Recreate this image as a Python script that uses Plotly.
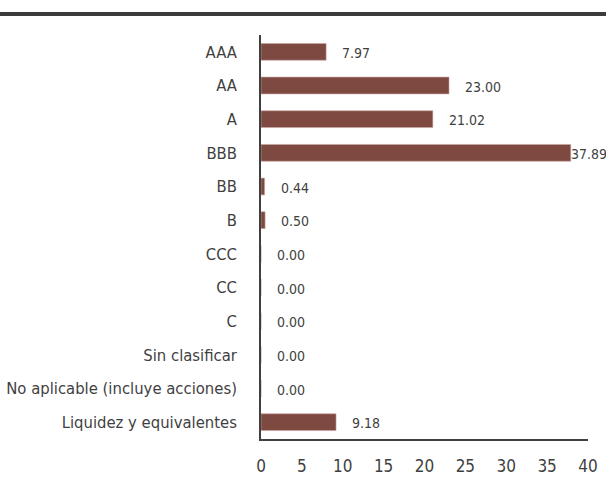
import plotly.graph_objects as go

categories = ["AAA", "AA", "A", "BBB", "BB", "B", "CCC", "CC", "C",
              "Sin clasificar", "No aplicable (incluye acciones)", "Liquidez y equivalentes"]
values = [7.97, 23.00, 21.02, 37.89, 0.44, 0.50, 0.00, 0.00, 0.00, 0.00, 0.00, 9.18]
labels = ["7.97", "23.00", "21.02", "37.89", "0.44", "0.50", "0.00", "0.00", "0.00", "0.00", "0.00", "9.18"]
x_ticks = [0, 5, 10, 15, 20, 25, 30, 35, 40]

FONT = "DejaVu Sans Condensed, Liberation Sans Narrow, Roboto, sans-serif"
BAR = "#7e4941"
TXT = "#3f3f3f"

L, R, T, B = 261, 18, 35, 38
W, H = 606, 477
PW, PH = W - L - R, H - T - B

fig = go.Figure(go.Bar(
    x=values, y=categories, orientation="h",
    marker=dict(color=BAR, line=dict(color="#c9a7a2", width=0.6)),
    width=0.5, hoverinfo="skip",
))

for v, lab, c in zip(values, labels, categories):
    fig.add_annotation(x=v, y=c, text=lab, showarrow=False, xanchor="left",
                       xshift=(14 if v < 35 else -2), yshift=-1,
                       font=dict(family=FONT, size=14, color=TXT))

ytop = 1 + (T - 14) / PH
fig.add_shape(type="line", xref="paper", yref="paper",
              x0=-L / PW, x1=1 + R / PW, y0=ytop, y1=ytop,
              line=dict(color="#3b3b3b", width=4))

fig.update_layout(
    width=W, height=H,
    margin=dict(l=L, r=R, t=T, b=B, autoexpand=False),
    paper_bgcolor="white", plot_bgcolor="white",
    showlegend=False,
    font=dict(family=FONT, size=16.5, color=TXT),
    xaxis=dict(range=[0, 40], tickvals=x_ticks, showgrid=False, zeroline=False,
               showline=True, linecolor="#404040", linewidth=1.5,
               ticks="", ticklabelstandoff=11, automargin=False,
               tickfont=dict(family=FONT, size=17, color=TXT)),
    yaxis=dict(autorange="reversed", showgrid=False, zeroline=False,
               showline=True, linecolor="#404040", linewidth=1.5,
               ticks="", ticklabelstandoff=19, automargin=False,
               tickfont=dict(family=FONT, size=16.5, color=TXT)),
)

fig.write_html("out.html", config={"displayModeBar": False},
               post_script="document.body.style.margin='0';document.body.style.overflow='hidden';")
